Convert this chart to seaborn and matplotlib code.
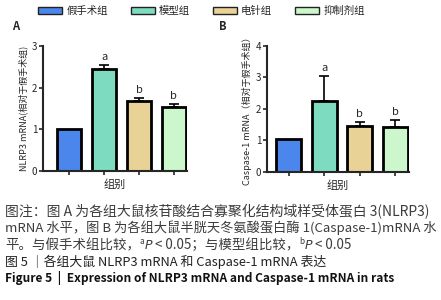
import numpy as np
import pandas as pd
import matplotlib
matplotlib.use("Agg")
import matplotlib.pyplot as plt
from matplotlib.patches import Patch
import seaborn as sns

groups = ["假手术组", "模型组", "电针组", "抑制剂组"]
colors = ["#4a86ec", "#7ddcc0", "#e8d296", "#ccf7cc"]

nlrp3_mean = [1.00, 2.44, 1.68, 1.53]
nlrp3_err = [0.00, 0.10, 0.08, 0.08]
nlrp3_sig = ["", "a", "b", "b"]

casp1_mean = [1.03, 2.25, 1.45, 1.42]
casp1_err = [0.00, 0.80, 0.14, 0.24]
casp1_sig = ["", "a", "b", "b"]

sns.set_style("ticks")
plt.rcParams['font.family'] = ['Noto Sans CJK SC', 'DejaVu Sans']

fig = plt.figure(figsize=(4.41, 3.0), dpi=100)
ax_a = fig.add_axes([0.0975, 0.43, 0.327, 0.417])
ax_b = fig.add_axes([0.605, 0.427, 0.322, 0.42])


def draw_panel(ax, means, errs, sig, ymax, xlim, ylabel):
    df = pd.DataFrame({"group": groups, "value": means})
    sns.barplot(data=df, x="group", y="value", hue="group", palette=colors,
                legend=False, width=0.7, edgecolor="black", linewidth=2,
                saturation=1, errorbar=None, ax=ax)
    for xi, m, e, s in zip(range(len(groups)), means, errs, sig):
        if e > 0:
            ax.errorbar(xi, m, yerr=[[0], [e]], fmt="none", ecolor="black",
                        elinewidth=1.2, capsize=3.5, capthick=1.2, zorder=5)
        if s:
            ax.annotate(s, (xi, m + e), xytext=(0, 2), textcoords="offset points",
                        ha="center", va="bottom", fontsize=8)
    ax.set_ylim(0, ymax)
    ax.set_xlim(*xlim)
    ax.set_yticks(range(ymax + 1))
    ax.set_xlabel("组别", fontsize=8, labelpad=3)
    ax.set_ylabel(ylabel, fontsize=6.5, labelpad=3)
    ax.tick_params(axis="y", length=3, width=1.2, labelsize=7, pad=1)
    ax.tick_params(axis="x", length=3, width=1.2, labelbottom=False)
    for sp in ["left", "bottom"]:
        ax.spines[sp].set_linewidth(1.5)
    sns.despine(ax=ax)


draw_panel(ax_a, nlrp3_mean, nlrp3_err, nlrp3_sig, 3, (-0.75, 3.38),
           "NLRP3 mRNA(相对于假手术组)")
draw_panel(ax_b, casp1_mean, casp1_err, casp1_sig, 4, (-0.62, 3.38),
           "Caspase-1 mRNA（相对于假手术组）")

fig.text(0.036, 0.91, "A", fontsize=8, fontweight="bold", ha="center", va="center")
fig.text(0.506, 0.91, "B", fontsize=8, fontweight="bold", ha="center", va="center")

handles = [Patch(facecolor=c, edgecolor="#222222", linewidth=1, label=g)
           for c, g in zip(colors, groups)]
fig.legend(handles=handles, loc="center", bbox_to_anchor=(0.457, 0.963), ncol=4,
           frameon=False, fontsize=7.5, handlelength=2.3, handleheight=0.7,
           columnspacing=2.2, handletextpad=0.4)

# caption
cap_color = "#3c3c3c"
fig.text(0.011, 0.293, "图注：图 A 为各组大鼠核苷酸结合寡聚化结构域样受体蛋白 3(NLRP3)",
         fontsize=10, color=cap_color, va="center")
fig.text(0.011, 0.24, "mRNA 水平，图 B 为各组大鼠半胱天冬氨酸蛋白酶 1(Caspase-1)mRNA 水",
         fontsize=9.5, color=cap_color, va="center")

renderer = fig.canvas.get_renderer()
pieces = [("平。与假手术组比较，", "n"),
          ("a", "sup"),
          ("P", "it"),
          (" < 0.05；与模型组比较，", "n"),
          ("b", "sup"),
          ("P", "it"),
          (" < 0.05", "n")]
cur = 0.011
for s, kind in pieces:
    if kind == "sup":
        t = fig.text(cur, 0.183 + 0.013, s, fontsize=6, color=cap_color, va="center")
    elif kind == "it":
        t = fig.text(cur, 0.183, s, fontsize=9, color=cap_color, va="center",
                     family="DejaVu Sans", style="italic")
    else:
        t = fig.text(cur, 0.183, s, fontsize=9.7, color=cap_color, va="center")
    cur += t.get_window_extent(renderer=renderer).width / fig.bbox.width

fig.text(0.011, 0.127, "图 5 ｜各组大鼠 NLRP3 mRNA 和 Caspase-1 mRNA 表达",
         fontsize=9.3, color="#222222", va="center")
fig.text(0.011, 0.073, "Figure 5  |  Expression of NLRP3 mRNA and Caspase-1 mRNA in rats",
         fontsize=8.6, color="#111111", fontweight="bold", va="center")

fig.savefig("out.png", dpi=100)
